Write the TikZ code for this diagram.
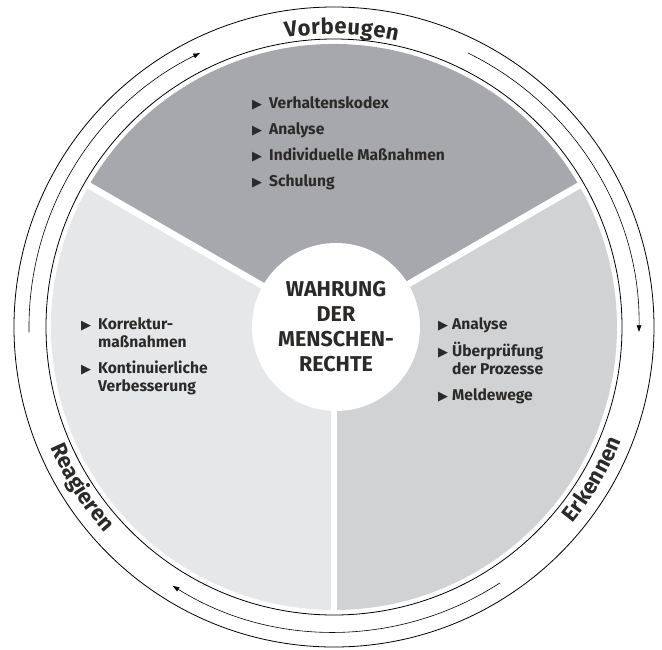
\documentclass[tikz,border=0pt]{standalone}
\usepackage{fontspec}
\setmainfont{Fira Sans}
\newfontfamily\symfont{DejaVu Sans}
\usetikzlibrary{arrows.meta,decorations.text}
\definecolor{ink}{HTML}{2B2A29}
\definecolor{topgray}{HTML}{A7A8AB}
\definecolor{rightgray}{HTML}{D1D2D4}
\definecolor{leftgray}{HTML}{E6E7E9}
\newcommand{\bul}{{\symfont\fontsize{13}{12}\selectfont ▶}}
\tikzset{
  ring/.style={draw=black,line width=0.8pt},
  flow/.style={line width=0.6pt,-{Latex[length=7pt,width=5pt]}},
  gap/.style={draw=white,line width=6.5pt},
  items/.style={text=ink,font=\bfseries\fontsize{15.6}{18}\selectfont,anchor=base west,inner sep=0pt},
  ringtext/.style={decorate,decoration={text along path,text align={fit to path},text color=ink,
    text={|\bfseries\fontsize{22}{24}\selectfont|#1}}}
}
\begin{document}
\begin{tikzpicture}[x=1pt,y=1pt]
\useasboundingbox (-334,-322) rectangle (328,327);
\coordinate (mid) at (0,0);
\fill[topgray] (mid) -- (30:283) arc[start angle=30,end angle=150,radius=283] -- cycle;
\fill[leftgray] (mid) -- (150:283) arc[start angle=150,end angle=270,radius=283] -- cycle;
\fill[rightgray] (mid) -- (270:283) arc[start angle=270,end angle=390,radius=283] -- cycle;
\foreach \a/\n in {30/rimA,150/rimB,270/rimC}{
  \coordinate (\n) at (\a:286);
  \draw[gap] (mid) -- (\n);
}
\draw[ring] (mid) circle[radius=288] (mid) circle[radius=320];
\node[circle,fill=white,minimum size=168pt,align=center,text=ink,
  font=\bfseries\fontsize{21.5}{25}\selectfont] (core) at (2,0) {WAHRUNG\\DER\\MENSCHEN-\\RECHTE};
\foreach \s/\e in {181/116,64/-1,-57/-122}
  \draw[flow] (\s:305) arc[start angle=\s,end angle=\e,radius=305];
\path[ringtext=Vorbeugen] (99.5:293) arc[start angle=99.5,end angle=77.5,radius=293];
\path[ringtext=Erkennen] (-39.5:309) arc[start angle=-39.5,end angle=-21.5,radius=309];
\path[ringtext=Reagieren] (203:308) arc[start angle=203,end angle=222,radius=308];
\node[items] (prevent) at (-82,219) {\begin{tabular}[t]{@{}l@{\hspace{7pt}}l@{}}
  \bul & Verhaltenskodex\\[8pt]
  \bul & Analyse\\[8pt]
  \bul & Individuelle Maßnahmen\\[8pt]
  \bul & Schulung
\end{tabular}};
\node[items] (react) at (-253,-2) {\begin{tabular}[t]{@{}l@{\hspace{7pt}}l@{}}
  \bul & Korrektur-\\
       & maßnahmen\\[8pt]
  \bul & Kontinuierliche\\
       & Verbesserung
\end{tabular}};
\node[items] (detect) at (104,-2) {\begin{tabular}[t]{@{}l@{\hspace{4pt}}l@{}}
  \bul & Analyse\\[8pt]
  \bul & Überprüfung\\
       & der Prozesse\\[8pt]
  \bul & Meldewege
\end{tabular}};
\end{tikzpicture}
\end{document}
